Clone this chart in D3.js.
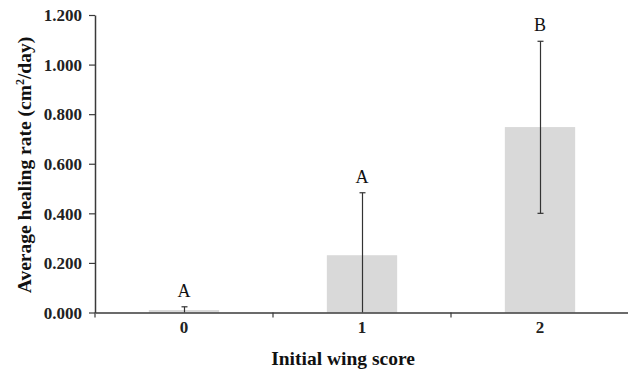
<!DOCTYPE html>
<html><head><meta charset="utf-8">
<script src="https://cdn.jsdelivr.net/npm/d3@7"></script>
<style>body{margin:0;background:#fff}svg{display:block}</style>
</head><body>
<svg id="c" width="628" height="371"></svg>
<script>
const categories = ["0","1","2"];
const means = [0.010, 0.231, 0.748];
const errUpper = [0.023, 0.483, 1.094];
const errLower = [0.000, 0.000, 0.400];
const letters = ["A","A","B"];
const yTicks = [0,0.2,0.4,0.6,0.8,1.0,1.2];

(function(){
const svg = d3.select("#c");
const mLeft = 95, mRight = 629, mTop = 15, mBottom = 312.5;
const x = d3.scaleBand().domain(categories).range([mLeft, mRight]).padding(0);
const y = d3.scaleLinear().domain([0,1.2]).range([mBottom, mTop]);
const axisColor = "#3a3a3a";
const font = "Liberation Serif, Times New Roman, serif";
const bw = x.bandwidth()*0.395;

svg.selectAll("rect.bar").data(categories).enter().append("rect")
  .attr("x", d => x(d)+x.bandwidth()/2-bw/2)
  .attr("width", bw)
  .attr("y", (d,i) => y(means[i]))
  .attr("height", (d,i) => y(0)-y(means[i]))
  .attr("fill", "#d9d9d9");

const eg = svg.append("g").attr("stroke", "#333").attr("stroke-width", 1.2);
categories.forEach((d,i) => {
  const cx = Math.round(x(d)+x.bandwidth()/2)+0.5;
  eg.append("line").attr("x1",cx).attr("x2",cx).attr("y1",y(errLower[i])).attr("y2",y(errUpper[i]));
  eg.append("line").attr("x1",cx-3).attr("x2",cx+3).attr("y1",y(errUpper[i])).attr("y2",y(errUpper[i]));
  if (errLower[i] > 0) eg.append("line").attr("x1",cx-3).attr("x2",cx+3).attr("y1",y(errLower[i])).attr("y2",y(errLower[i]));
});

svg.selectAll("text.let").data(categories).enter().append("text")
  .attr("x", d => x(d)+x.bandwidth()/2)
  .attr("y", (d,i) => y(errUpper[i]) - 10)
  .attr("text-anchor","middle")
  .attr("font-family", font).attr("font-size", 18).attr("fill","#111")
  .text((d,i) => letters[i]);

const ya = svg.append("g").attr("transform", `translate(${mLeft},0)`)
  .call(d3.axisLeft(y).tickValues(yTicks).tickFormat(d3.format(".3f")).tickSize(6).tickSizeOuter(0));
ya.select(".domain").attr("stroke", axisColor).attr("stroke-width",1.5);
ya.selectAll(".tick line").attr("stroke", axisColor).attr("stroke-width",1.2);
ya.selectAll(".tick text").attr("font-family", font).attr("font-size", 17).attr("font-weight","bold").attr("fill","#222").attr("x",-13).attr("dy","0.34em");

const xa = svg.append("g").attr("transform", `translate(0,${mBottom})`)
  .call(d3.axisBottom(x).tickSize(0).tickSizeOuter(0));
xa.select(".domain").attr("stroke", axisColor).attr("stroke-width",1.5);
xa.selectAll(".tick text").attr("font-family", font).attr("font-size", 17).attr("font-weight","bold").attr("fill","#222").attr("y",0).attr("dy","1.2em");
const bounds = categories.slice(1).map(d => x(d));
svg.append("g").selectAll("line").data([mLeft, ...bounds]).enter().append("line")
  .attr("x1", d => d).attr("x2", d => d).attr("y1", mBottom).attr("y2", mBottom+5)
  .attr("stroke", axisColor).attr("stroke-width",1.2);

svg.append("text").attr("x", 343).attr("y", 365).attr("text-anchor","middle")
  .attr("font-family", font).attr("font-size", 19.5).attr("font-weight","bold").attr("fill","#111")
  .text("Initial wing score");
const yt = svg.append("text").attr("transform","translate(31,165) rotate(-90)").attr("text-anchor","middle")
  .attr("font-family", font).attr("font-size", 19.5).attr("font-weight","bold").attr("fill","#111");
yt.append("tspan").text("Average healing rate (cm");
yt.append("tspan").attr("font-size",12).attr("dy",-7).text("2");
yt.append("tspan").attr("dy",7).text("/day)");
})();
</script>
</body></html>
